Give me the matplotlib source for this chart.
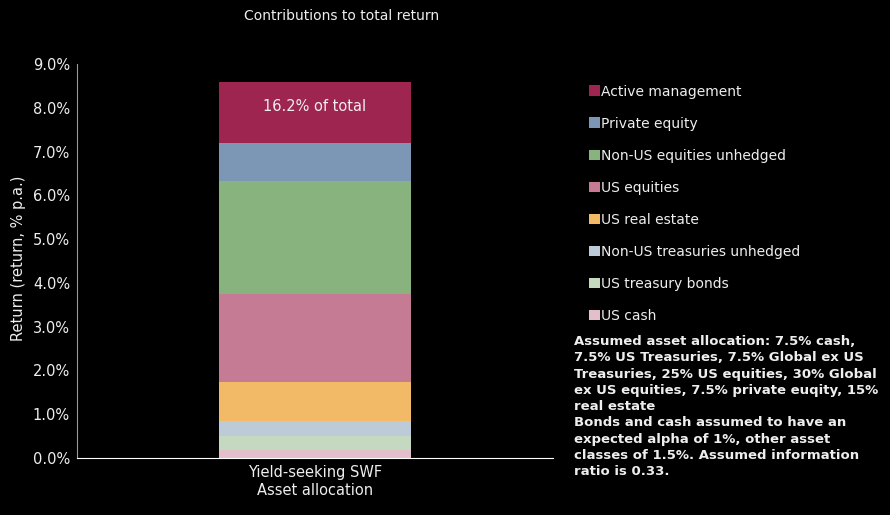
import matplotlib
matplotlib.use("Agg")
import matplotlib.pyplot as plt
from matplotlib.patches import Patch

categories = ["Yield-seeking SWF"]
series_names = ["US cash", "US treasury bonds", "Non-US treasuries unhedged", "US real estate",
                "US equities", "Non-US equities unhedged", "Private equity", "Active management"]
series_values = [0.18, 0.32, 0.345, 0.89, 2.015, 2.57, 0.88, 1.39]
colors = ["#E3BFCB", "#C4D9C0", "#BDCBD9", "#F2BA66", "#C57B94", "#88B37F", "#7B97B5", "#9E2550"]
yticks = [0, 1, 2, 3, 4, 5, 6, 7, 8, 9]
note = ("Assumed asset allocation: 7.5% cash,\n7.5% US Treasuries, 7.5% Global ex US\n"
        "Treasuries, 25% US equities, 30% Global\nex US equities, 7.5% private euqity, 15%\n"
        "real estate\nBonds and cash assumed to have an\nexpected alpha of 1%, other asset\n"
        "classes of 1.5%. Assumed information\nratio is 0.33.")

txt = "#EEEEEE"
fig = plt.figure(figsize=(8.9, 5.15), dpi=100, facecolor="black")
ax = fig.add_axes([77/890, 1-458/515, 476/890, 394/515], facecolor="black")

bottom = 0
for name, v, c in zip(series_names, series_values, colors):
    ax.bar(0, v, width=0.403, bottom=bottom, color=c, label=name)
    bottom += v

total = sum(series_values)
share = series_values[-1] / total * 100
ax.text(0, total - 0.55, f"{share:.1f}% of total", ha="center", va="center",
        color=txt, fontsize=10.5)

ax.set_xlim(-0.5, 0.5)
ax.set_ylim(0, 9)
ax.set_yticks(yticks)
ax.set_yticklabels([f"{t:.1f}%" for t in yticks], color=txt, fontsize=10.5)
ax.set_xticks([0])
ax.set_xticklabels(categories, color=txt, fontsize=10.5)
ax.set_xlabel("Asset allocation", color=txt, fontsize=10.5, labelpad=2)
ax.set_ylabel("Return (return, % p.a.)", color=txt, fontsize=10.5)
ax.yaxis.set_label_coords(-0.108, 0.508)
ax.tick_params(axis="both", length=0, pad=5)
for s in ["top", "right"]:
    ax.spines[s].set_visible(False)
ax.spines["left"].set_color("#999999")
ax.spines["bottom"].set_color("white")

fig.text(342/890, 1-16/515, "Contributions to total return", ha="center", va="center",
         color=txt, fontsize=10)

handles = [Patch(facecolor=c, edgecolor="none") for c in colors[::-1]]
leg = fig.legend(handles, series_names[::-1], loc="upper left",
                 bbox_to_anchor=(583/890, 1-79/515), frameon=False,
                 fontsize=10, labelcolor=txt, handlelength=0.8, handleheight=0.8,
                 handletextpad=0.1, labelspacing=1.3, borderaxespad=0)

fig.text(574/890, 1-335/515, note, ha="left", va="top", color=txt, fontsize=9.5,
         fontweight="bold", linespacing=1.33)

fig.savefig("out.png", dpi=100, facecolor="black")
